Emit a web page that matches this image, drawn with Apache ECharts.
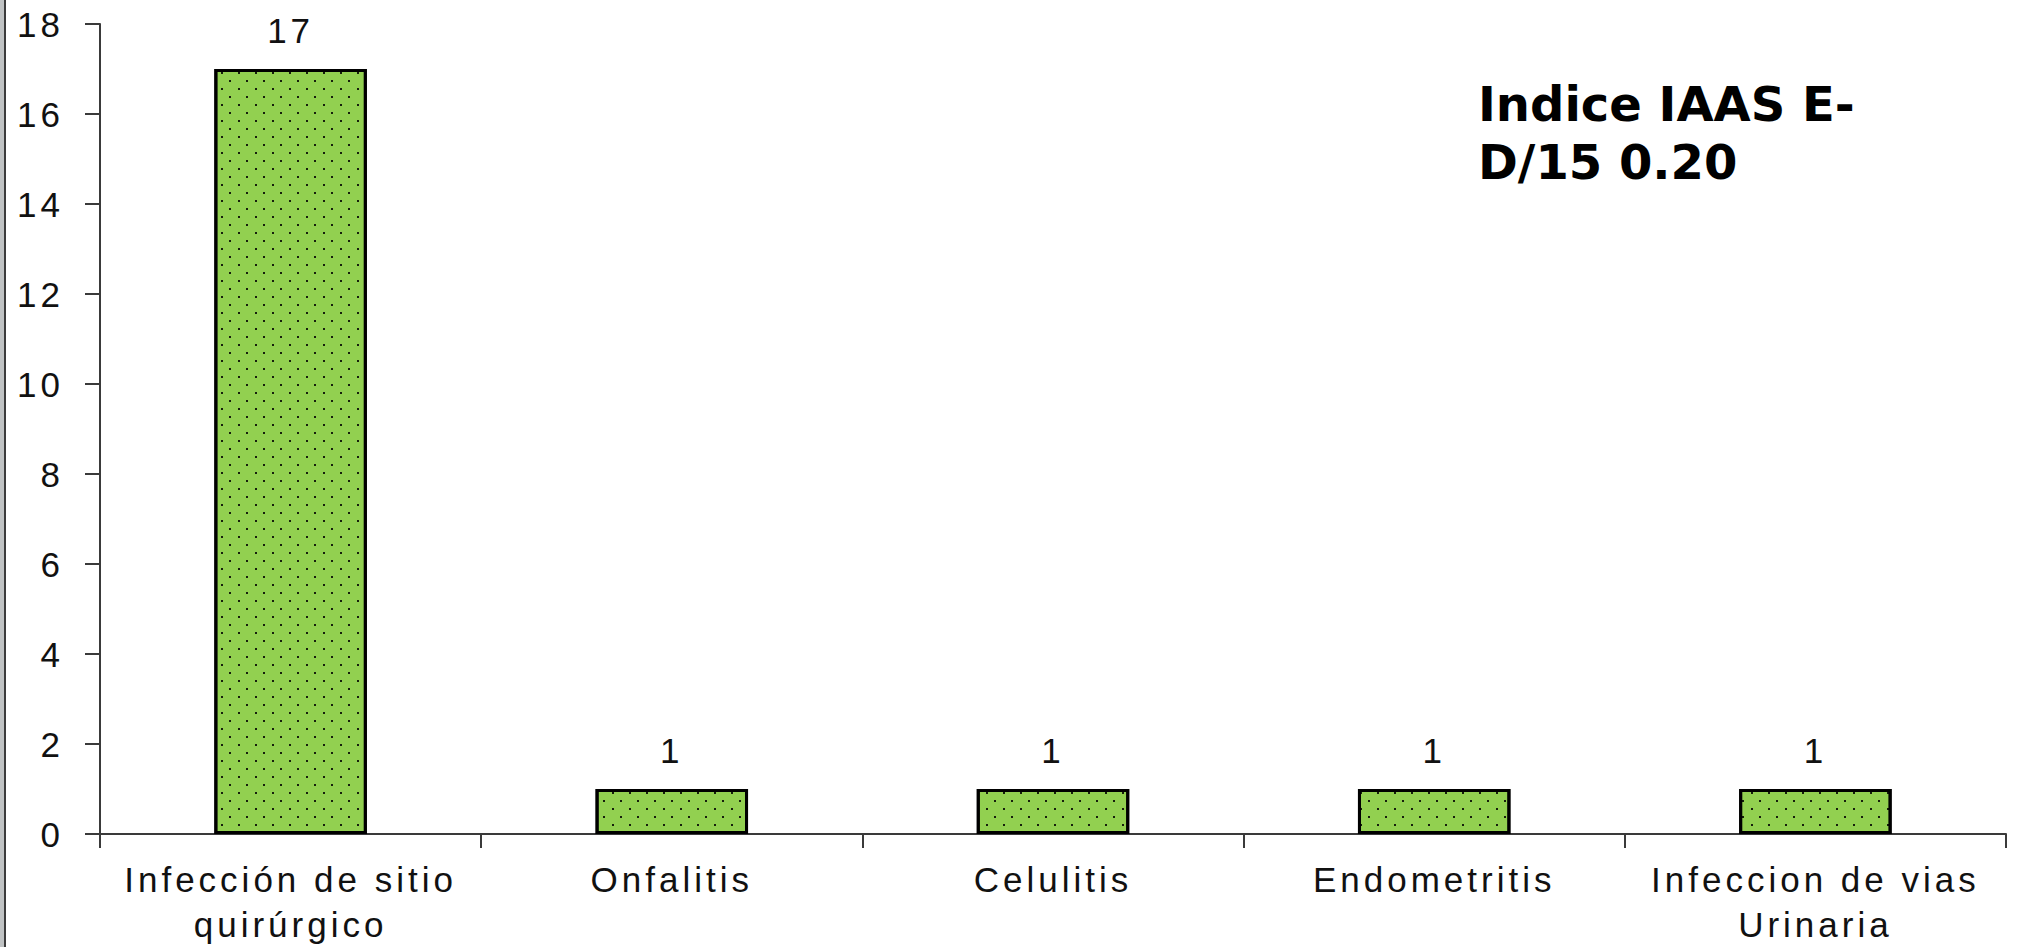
<!DOCTYPE html>
<html>
<head>
<meta charset="utf-8">
<script src="https://cdn.jsdelivr.net/npm/echarts@6/dist/echarts.min.js"></script>
<style>
  html, body { margin: 0; padding: 0; background: #fff; }
  #chart { width: 2019px; height: 947px; }
  /* the old Excel export spaces its Arial text out widely */
  #chart text { letter-spacing: 4px; }
  #chart text[style*="bold"] { letter-spacing: 0; }
</style>
</head>
<body>
<div id="chart"></div>
<script>
// chart data
var categories = ['Infección de sitio\nquirúrgico', 'Onfalitis', 'Celulitis', 'Endometritis', 'Infeccion de vias\nUrinaria']
var values = [17, 1, 1, 1, 1]
var yMin = 0
var yMax = 18
var yStep = 2
var noteText = 'Indice IAAS E-\nD/15 0.20'

var chart = echarts.init(document.getElementById('chart'), null, { renderer: 'svg' })

chart.setOption({
  backgroundColor: '#ffffff',
  animation: false,
  grid: {
    left: 100,
    right: 13,
    top: 24,
    bottom: 113
  },
  xAxis: {
    type: 'category',
    data: categories,
    boundaryGap: true,
    axisLine: {
      lineStyle: { color: '#3a3a3a', width: 2 }
    },
    axisTick: {
      show: true,
      length: 14,
      lineStyle: { color: '#3a3a3a', width: 2 }
    },
    axisLabel: {
      interval: 0,
      margin: 23,
      color: '#111',
      fontFamily: 'Liberation Sans',
      fontSize: 35,
      lineHeight: 45
    }
  },
  yAxis: {
    type: 'value',
    min: yMin,
    max: yMax,
    interval: yStep,
    splitLine: { show: false },
    axisLine: {
      show: true,
      lineStyle: { color: '#3a3a3a', width: 2 }
    },
    axisTick: {
      show: true,
      length: 15,
      lineStyle: { color: '#3a3a3a', width: 2 }
    },
    axisLabel: {
      margin: 36,
      color: '#111',
      fontFamily: 'Liberation Sans',
      fontSize: 35
    }
  },
  series: [{
    type: 'bar',
    data: values,
    barWidth: '40%',
    itemStyle: {
      color: '#92d050',
      borderColor: '#000',
      borderWidth: 3,
      decal: {
        symbol: 'rect',
        symbolSize: 1,
        color: 'rgba(0,0,0,0.85)',
        dashArrayX: [[2, 15], [0, 8, 2, 7]],
        dashArrayY: [2, 5.3],
        rotation: 0
      }
    },
    label: {
      show: true,
      position: 'top',
      distance: 21,
      color: '#111',
      fontFamily: 'Liberation Sans',
      fontSize: 35
    }
  }],
  graphic: [
    {
      type: 'rect',
      shape: { x: 0, y: 0, width: 4, height: 947 },
      style: { fill: '#c0c3c4' }
    },
    {
      type: 'rect',
      shape: { x: 4, y: 0, width: 2, height: 947 },
      style: { fill: '#3c3c3c' }
    },
    {
      type: 'text',
      left: 1478,
      top: 75,
      style: {
        text: noteText,
        fill: '#000',
        font: 'bold 48px "DejaVu Sans"',
        lineHeight: 58
      }
    }
  ]
})
</script>
</body>
</html>
